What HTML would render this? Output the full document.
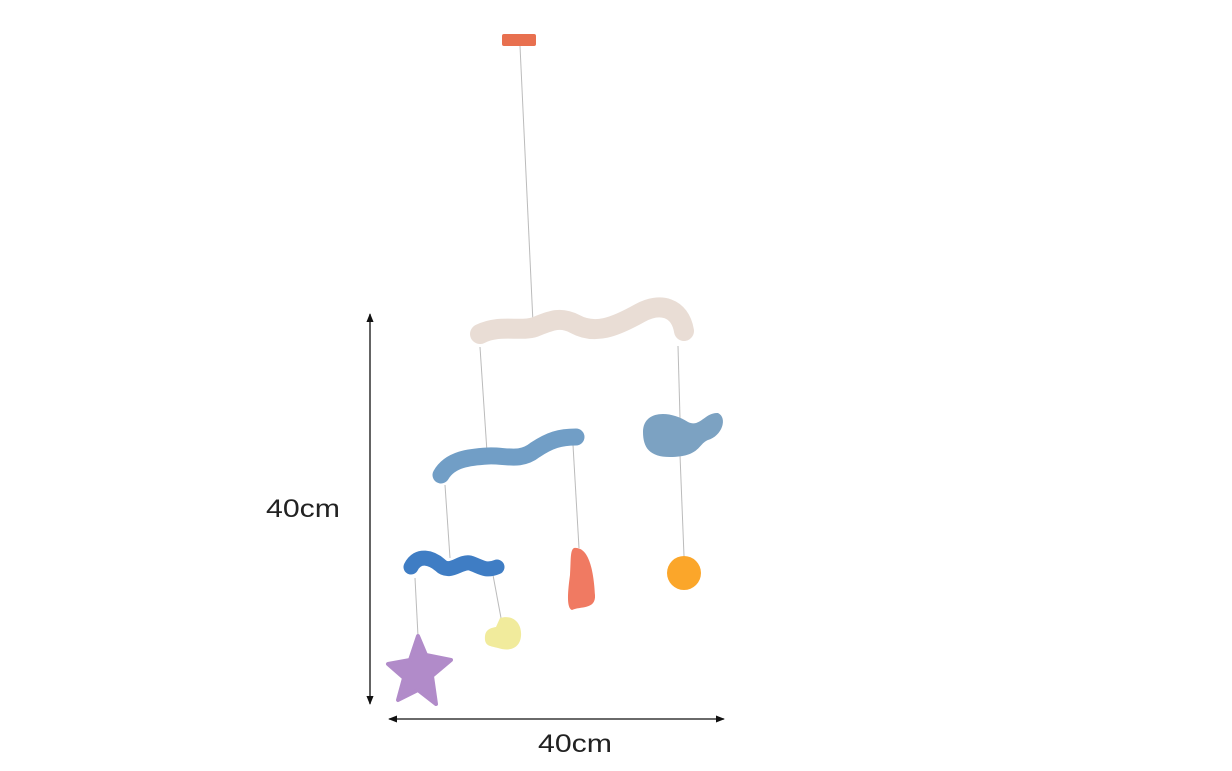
<!DOCTYPE html>
<html><head><meta charset="utf-8"><style>
html,body{margin:0;padding:0;background:#fff;width:1232px;height:771px;overflow:hidden}
svg{display:block}
text{font-family:"Liberation Sans",sans-serif;font-size:25px;fill:#222}
</style></head><body>
<svg width="1232" height="771" viewBox="0 0 1232 771">
<defs>
<marker id="ah" viewBox="0 0 10 10" refX="9" refY="5" markerWidth="9" markerHeight="9" orient="auto-start-reverse" markerUnits="userSpaceOnUse"><path d="M0,1 L10,5 L0,9 z" fill="#111"/></marker>
</defs>
<g stroke="#bbb" stroke-width="1" fill="none">
<line x1="520" y1="46" x2="533" y2="323"/>
<line x1="480" y1="347" x2="487" y2="452"/>
<line x1="678" y1="346" x2="680" y2="418"/>
<line x1="445" y1="485" x2="450" y2="558"/>
<line x1="573" y1="445" x2="579" y2="548"/>
<line x1="680" y1="455" x2="684" y2="556"/>
<line x1="415" y1="578" x2="418" y2="636"/>
<line x1="493" y1="575" x2="501" y2="618"/>
</g>
<rect x="502" y="34" width="34" height="12" rx="2" fill="#e8704f"/>
<path d="M480,334 C500,324 520,332 535,327 C550,321 560,316 575,324 C595,335 615,327 640,313 C660,302 680,307 684,331" stroke="#e9ddd5" stroke-width="20" fill="none" stroke-linecap="round"/>
<path d="M441,475 C450,459 470,457 488,456 C505,455 520,462 535,450 C550,440 560,437 576,437" stroke="#719ec6" stroke-width="17" fill="none" stroke-linecap="round"/>
<path d="M643,432 C643,410 670,410 688,422 C700,428 705,412 718,413 C728,418 722,436 708,440 C698,444 700,457 670,457 C650,457 643,448 643,432 z" fill="#7ca2c2"/>
<path d="M411,567 C418,553 432,558 440,565 C450,575 460,561 470,563 C480,566 485,572 497,567" stroke="#3f7dc4" stroke-width="15" fill="none" stroke-linecap="round"/>
<path d="M418,636 L426,655 L451,660 L432,676 L436,704 L418,690 L398,700 L404,678 L388,664 L410,660 z" fill="#b18bc9" stroke="#b18bc9" stroke-width="4" stroke-linejoin="round"/>
<path d="M500,618 C515,614 522,625 521,636 C520,648 510,652 498,648 C490,646 486,646 485,640 C484,630 490,628 496,627 z" fill="#f1eb9c"/>
<path d="M574,548 C590,546 594,575 595,595 C596,610 580,606 572,610 C566,608 568,590 570,575 C571,560 570,550 574,548 z" fill="#f07a62"/>
<circle cx="684" cy="573" r="17" fill="#fba62a"/>
<line x1="370" y1="314" x2="370" y2="704" stroke="#111" stroke-width="1.3" marker-start="url(#ah)" marker-end="url(#ah)"/>
<line x1="389" y1="719" x2="724" y2="719" stroke="#111" stroke-width="1.3" marker-start="url(#ah)" marker-end="url(#ah)"/>
<text x="266" y="517" textLength="74" lengthAdjust="spacingAndGlyphs">40cm</text>
<text x="538" y="752" textLength="74" lengthAdjust="spacingAndGlyphs">40cm</text>
</svg>
</body></html>
